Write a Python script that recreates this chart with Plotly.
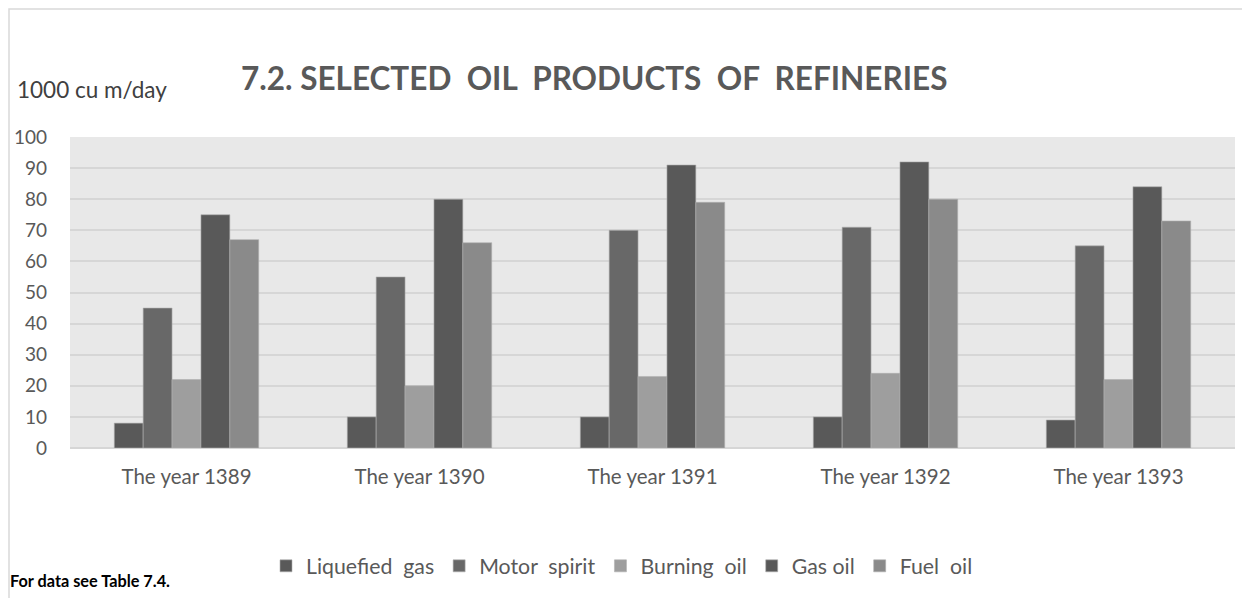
import plotly.graph_objects as go

years = ["The year 1389", "The year 1390", "The year 1391", "The year 1392", "The year 1393"]
liquefied_gas = [8, 10, 10, 10, 9]
motor_spirit = [45, 55, 70, 71, 65]
burning_oil = [22, 20, 23, 24, 22]
gas_oil = [75, 80, 91, 92, 84]
fuel_oil = [67, 66, 79, 80, 73]

NB = "\u00a0"
series = [
    ("Liquefied" + NB + " gas", liquefied_gas, "#595959"),
    ("Motor" + NB + " spirit", motor_spirit, "#686868"),
    ("Burning" + NB + " oil", burning_oil, "#9e9e9e"),
    ("Gas oil", gas_oil, "#595959"),
    ("Fuel" + NB + " oil", fuel_oil, "#8a8a8a"),
]

FONT = "Lato, Carlito, sans-serif"

fig = go.Figure()
for name, vals, col in series:
    fig.add_trace(go.Bar(x=years, y=vals, name=name, marker_color=col,
                         marker_line=dict(color="#b0b0b0", width=0.6)))

# page has an 8px body margin; work in page coordinates
OFF = 8
PAGE_W, PAGE_H = 1250, 598
PL, PR, PT, PB = 70, 1235, 137, 448   # plot area in page pixels
W, H = PAGE_W - OFF, PAGE_H - OFF
L, T = PL - OFF, PT - OFF
R = W - (PR - OFF)
B = H - (PB - OFF)
pw, ph = PR - PL, PB - PT

def px(x):
    return (x - PL) / pw

def py(y):
    return (PB - y) / ph

title = "7.2. SELECTED" + NB + " OIL" + NB + " PRODUCTS" + NB + " OF" + NB + " REFINERIES"

fig.update_layout(
    width=W, height=H,
    margin=dict(l=L, r=R, t=T, b=B, autoexpand=False),
    paper_bgcolor="white",
    plot_bgcolor="#e8e8e8",
    barmode="group",
    bargap=0.38,
    bargroupgap=0,
    font=dict(family=FONT, color="#595959"),
    showlegend=True,
    legend=dict(orientation="h", x=px(266), xanchor="left", y=py(566), yanchor="middle",
                font=dict(size=21.3, color="#595959"), itemwidth=30, traceorder="normal",
                bgcolor="rgba(0,0,0,0)"),
    xaxis=dict(showgrid=False, tickfont=dict(size=20.5, color="#595959"), ticks="",
               showline=False, zeroline=False, automargin=False, ticklabelstandoff=14),
    yaxis=dict(range=[0, 100], dtick=10, showgrid=True, gridcolor="#d6d6d6", gridwidth=1.5,
               zeroline=True, zerolinecolor="#d6d6d6", zerolinewidth=1.5,
               tickfont=dict(size=19, color="#595959"), ticks="", showline=False,
               automargin=False, ticklabelstandoff=22),
    annotations=[
        dict(text="<b>" + title + "</b>", xref="paper", yref="paper",
             x=px(594), y=py(78), xanchor="center", yanchor="middle", showarrow=False,
             font=dict(size=31.5, color="#595959", family=FONT)),
        dict(text="1000 cu m/day", xref="paper", yref="paper", x=px(15), y=py(90),
             xanchor="left", yanchor="middle", showarrow=False,
             font=dict(size=22.5, color="#404040", family=FONT)),
        dict(text="<b>For data see Table 7.4.</b>", xref="paper", yref="paper", x=px(8), y=py(580),
             xanchor="left", yanchor="middle", showarrow=False,
             font=dict(size=16.3, color="#000000", family=FONT)),
    ],
    shapes=[
        dict(type="rect", xref="paper", yref="paper", x0=px(9), x1=px(1262), y0=py(610), y1=py(9),
             line=dict(color="#d9d9d9", width=1.5), fillcolor="rgba(0,0,0,0)", layer="below"),
    ],
)

fig.write_html("out.html")
